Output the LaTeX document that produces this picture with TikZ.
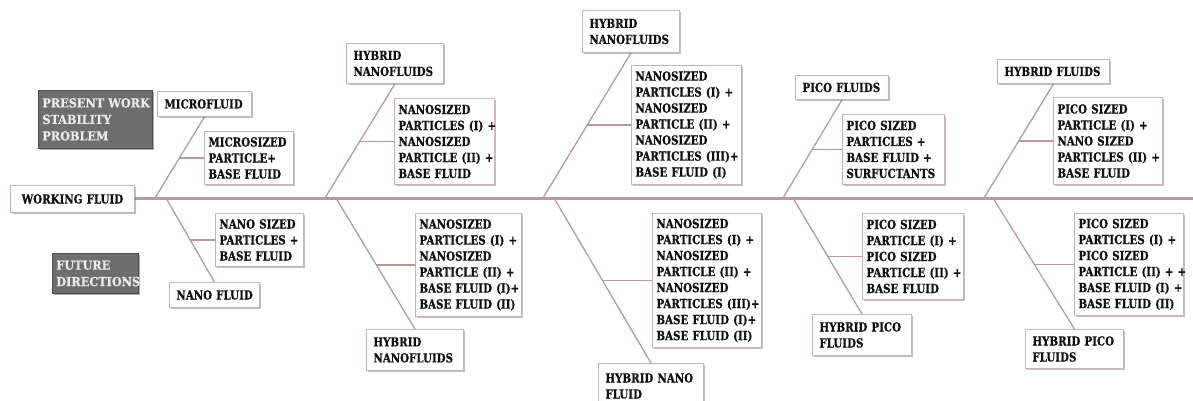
\documentclass[tikz,border=0pt]{standalone}
\usepackage{fontspec}
\setmainfont{DejaVu Serif Bold}[FakeStretch=0.82, FakeBold=0.6]
\newfontfamily\notefont{DejaVu Serif Bold}[FakeStretch=0.9, FakeBold=0.6]
\usetikzlibrary{calc,shadows,backgrounds}

\definecolor{spinecol}{HTML}{B89C9C}
\definecolor{bonecol}{HTML}{B49C9C}
\definecolor{edgecol}{HTML}{C8B2B2}
\definecolor{darkfill}{HTML}{6E6E6E}
\definecolor{inkcol}{HTML}{101010}

% one bone: diagonal from the spine to the cause box, plus the short
% horizontal tick from the diagonal to the detail box
\newcommand\fishbone[3]{%
  \draw[bone] (#1) -- (#2);
  \draw[bone] let \p1=(#1), \p2=(#2), \p3=(#3.west) in
    ({\x1+(\x2-\x1)*(\y3-\y1)/(\y2-\y1)},\y3) -- (#3.west);
}

\begin{document}
\begin{tikzpicture}[x=1pt,y=-1pt,
  txt/.style={font=\fontsize{12.5}{16}\selectfont, text=inkcol},
  leaf/.style={txt, draw=edgecol, line width=0.9pt, fill=white,
    drop shadow={shadow xshift=1.6pt, shadow yshift=-1.6pt, opacity=0.35, fill=black!70},
    anchor=north west, align=left, inner xsep=4pt, inner ysep=0pt},
  note/.style={font=\notefont\fontsize{12.5}{16.5}\selectfont, text=white!92!black,
    draw=darkfill!70!black, line width=0.8pt, fill=darkfill,
    drop shadow={shadow xshift=1.6pt, shadow yshift=-1.6pt, opacity=0.45, fill=black!70},
    anchor=north west, align=left, inner xsep=4pt, inner ysep=0pt},
  spine/.style={draw=spinecol, line width=3pt},
  bone/.style={draw=bonecol, line width=1.3pt}]

\useasboundingbox (0,0) rectangle (1193,401);

% side notes
\node[note, text width=106pt, minimum height=58pt] (present) at (38,90)
  {PRESENT~WORK\\STABILITY\\PROBLEM};
\node[note, text width=78pt, minimum height=40pt] (future) at (52,253)
  {FUTURE\\DIRECTIONS};

% head of the fish
\node[leaf, align=center, text width=116pt, minimum height=27pt] (wf) at (10,185)
  {WORKING~FLUID};
\coordinate (tail) at (1193,198);

% points where the bones leave the spine
\coordinate (r1t) at (155,198);  \coordinate (r1b) at (166,198);
\coordinate (r2t) at (325,198);  \coordinate (r2b) at (336,198);
\coordinate (r3t) at (543,198);  \coordinate (r3b) at (554,198);
\coordinate (r4t) at (783,198);  \coordinate (r4b) at (793,198);
\coordinate (r5t) at (984,198);  \coordinate (r5b) at (993,198);

% microfluid / nano fluid
\node[leaf, inner xsep=7pt, text width=80pt, minimum height=25pt] (m1) at (157,91) {MICROFLUID};
\node[leaf, text width=81pt, minimum height=53pt] (s1) at (204,131)
  {MICROSIZED\\PARTICLE+\\BASE~FLUID};
\node[leaf, text width=80pt, minimum height=53pt] (b1) at (215,213)
  {NANO~SIZED\\PARTICLES~+\\BASE~FLUID};
\node[leaf, inner xsep=7pt, text width=76pt, minimum height=25pt] (n1) at (169,282) {NANO~FLUID};

% hybrid nanofluids, two particle types
\node[leaf, inner xsep=7pt, text width=83pt, minimum height=40pt] (m2) at (346,43)
  {HYBRID\\NANOFLUIDS};
\node[leaf, text width=92pt, minimum height=86pt] (s2) at (394,98)
  {NANOSIZED\\PARTICLES~(I)~+\\NANOSIZED\\PARTICLE~(II)~+\\BASE~FLUID};
\node[leaf, text width=98pt, minimum height=103pt] (b2) at (415,213)
  {NANOSIZED\\PARTICLES~(I)~+\\NANOSIZED\\PARTICLE~(II)~+\\BASE~FLUID~(I)+\\BASE~FLUID~(II)};
\node[leaf, inner xsep=7pt, text width=83pt, minimum height=41pt] (n2) at (366,329)
  {HYBRID\\NANOFLUIDS};

% hybrid nanofluids, three particle types
\node[leaf, inner xsep=7pt, text width=83pt, minimum height=42pt] (m3) at (582,10)
  {HYBRID\\NANOFLUIDS};
\node[leaf, text width=102pt, minimum height=119pt] (s3) at (631,65)
  {NANOSIZED\\PARTICLES~(I)~+\\NANOSIZED\\PARTICLE~(II)~+\\NANOSIZED\\PARTICLES~(III)+\\BASE~FLUID~(I)};
\node[leaf, text width=101pt, minimum height=134pt] (b3) at (652,213)
  {NANOSIZED\\PARTICLES~(I)~+\\NANOSIZED\\PARTICLE~(II)~+\\NANOSIZED\\PARTICLES~(III)+\\BASE~FLUID~(I)+\\BASE~FLUID~(II)};
\node[leaf, inner xsep=7pt, text width=91pt, minimum height=45pt] (n3) at (598,363)
  {HYBRID~NANO\\FLUID};

% pico fluids
\node[leaf, inner xsep=7pt, text width=79pt, minimum height=24pt] (m4) at (795,75) {PICO~FLUIDS};
\node[leaf, text width=94pt, minimum height=70pt] (s4) at (842,114)
  {PICO~SIZED\\PARTICLES~+\\BASE~FLUID~+\\SURFUCTANTS};
\node[leaf, text width=93pt, minimum height=86pt] (b4) at (862,213)
  {PICO~SIZED\\PARTICLE~(I)~+\\PICO~SIZED\\PARTICLE~(II)~+\\BASE~FLUID};
\node[leaf, inner xsep=7pt, text width=85pt, minimum height=41pt] (n4) at (812,314)
  {HYBRID~PICO\\FLUIDS};

% hybrid pico fluids
\node[leaf, inner xsep=7pt, text width=98pt, minimum height=24pt] (m5) at (997,59) {HYBRID~FLUIDS};
\node[leaf, text width=101pt, minimum height=87pt] (s5) at (1053,97)
  {PICO~SIZED\\PARTICLE~(I)~+\\NANO~SIZED\\PARTICLES~(II)~+\\BASE~FLUID};
\node[leaf, text width=101pt, minimum height=102pt] (b5) at (1074,213)
  {PICO~SIZED\\PARTICLES~(I)~+\\PICO~SIZED\\PARTICLE~(II)~+~+\\BASE~FLUID~(I)~+\\BASE~FLUID~(II)};
\node[leaf, inner xsep=7pt, text width=84pt, minimum height=39pt] (n5) at (1025,329)
  {HYBRID~PICO\\FLUIDS};

% spine and bones, drawn beneath the boxes
\begin{scope}[on background layer]
\draw[spine] (wf.east |- tail) -- (tail);
\fishbone{r1t}{m1.south}{s1}
\fishbone{r1b}{n1.north}{b1}
\fishbone{r2t}{m2.south}{s2}
\fishbone{r2b}{n2.north}{b2}
\fishbone{r3t}{m3.south}{s3}
\fishbone{r3b}{n3.north}{b3}
\fishbone{r4t}{m4.south}{s4}
\fishbone{r4b}{n4.north}{b4}
\fishbone{r5t}{m5.south}{s5}
\fishbone{r5b}{n5.north}{b5}
\end{scope}

\end{tikzpicture}
\end{document}
